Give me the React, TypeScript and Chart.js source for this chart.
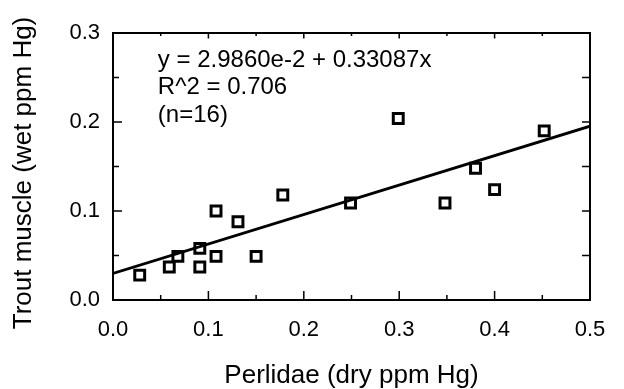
import React, { useEffect, useRef } from "react";
import { Chart, registerables } from "chart.js";

Chart.register(...registerables);

const perlidaeX = [0.028, 0.059, 0.068, 0.091, 0.091, 0.108, 0.108, 0.131, 0.150, 0.178, 0.249, 0.299, 0.348, 0.380, 0.400, 0.452];
const troutY = [0.028, 0.037, 0.049, 0.058, 0.037, 0.049, 0.100, 0.088, 0.049, 0.118, 0.109, 0.204, 0.109, 0.148, 0.124, 0.190];
const fitX = [0, 0.5];
const fitY = [0.02986, 0.19530];
const xTicks = [0, 0.1, 0.2, 0.3, 0.4, 0.5];
const yTicks = [0, 0.1, 0.2, 0.3];
const annotationLines = ["y = 2.9860e-2 + 0.33087x", "R^2 = 0.706", "(n=16)"];
const xTitle = "Perlidae (dry ppm Hg)";
const yTitle = "Trout muscle (wet ppm Hg)";

const FONT = "'Liberation Sans', Arial, Helvetica, sans-serif";

const framePlugin = {
  id: "frame",
  afterDatasetsDraw(chart: any) {
    const { ctx, chartArea: a, scales } = chart;
    const xs = scales.x;
    const ys = scales.y;
    ctx.save();
    ctx.strokeStyle = "#000";
    ctx.lineWidth = 2;
    ctx.strokeRect(a.left, a.top, a.right - a.left, a.bottom - a.top);
    ctx.lineWidth = 1.5;
    for (let i = 0; i < xTicks.length - 1; i++) {
      const major = xTicks[i];
      const minor = (xTicks[i] + xTicks[i + 1]) / 2;
      [[major, 9], [minor, 5]].forEach(([v, len]) => {
        const px = xs.getPixelForValue(v);
        ctx.beginPath();
        ctx.moveTo(px, a.bottom);
        ctx.lineTo(px, a.bottom - len);
        ctx.moveTo(px, a.top);
        ctx.lineTo(px, a.top + (len as number) * 0.6);
        ctx.stroke();
      });
    }
    for (let i = 0; i < yTicks.length - 1; i++) {
      const major = yTicks[i];
      const minor = (yTicks[i] + yTicks[i + 1]) / 2;
      [[major, 9], [minor, 6]].forEach(([v, len]) => {
        const py = ys.getPixelForValue(v);
        ctx.beginPath();
        ctx.moveTo(a.left, py);
        ctx.lineTo(a.left + len, py);
        ctx.moveTo(a.right, py);
        ctx.lineTo(a.right - 8, py);
        ctx.stroke();
      });
    }
    ctx.fillStyle = "#000";
    ctx.font = `24px ${FONT}`;
    ctx.textBaseline = "middle";
    ctx.textAlign = "left";
    const x0 = xs.getPixelForValue(0.047);
    annotationLines.forEach((t, i) => {
      ctx.fillText(t, x0, 60 + i * 27.5);
    });
    // y-axis title
    ctx.font = `26px ${FONT}`;
    ctx.textAlign = "center";
    ctx.translate(24, 173);
    ctx.rotate(-Math.PI / 2);
    ctx.fillText(yTitle, 0, 0);
    ctx.restore();
  },
};

export default function App() {
  const ref = useRef<HTMLCanvasElement>(null);
  useEffect(() => {
    document.body.style.margin = "0";
    const pts = perlidaeX.map((x, i) => ({ x, y: troutY[i] }));
    const line = fitX.map((x, i) => ({ x, y: fitY[i] }));
    const chart = new Chart(ref.current as HTMLCanvasElement, {
      type: "scatter",
      data: {
        datasets: [
          {
            type: "line",
            data: line,
            borderColor: "#000",
            borderWidth: 2.8,
            pointRadius: 0,
            fill: false,
          } as any,
          {
            data: pts,
            pointStyle: "rect",
            pointRadius: 7,
            pointBorderWidth: 3,
            pointBorderColor: "#000",
            pointBackgroundColor: "#fff",
          },
          {
            data: pts,
            pointStyle: "circle",
            pointRadius: 1.4,
            pointBorderWidth: 0,
            pointBackgroundColor: "#000",
          },
        ],
      },
      options: {
        animation: false,
        responsive: false,
        events: [],
        layout: { padding: { top: 33, right: 34, left: 0, bottom: 0 } },
        plugins: { legend: { display: false }, tooltip: { enabled: false } },
        scales: {
          x: {
            type: "linear",
            min: 0,
            max: 0.5,
            afterFit: (s: any) => { s.height = 89; },
            afterBuildTicks: (s: any) => { s.ticks = xTicks.map((v) => ({ value: v })); },
            grid: { display: false, drawTicks: false },
            border: { display: false },
            ticks: {
              padding: 17,
              color: "#000",
              font: { family: FONT, size: 22 },
              callback: (v: any) => Number(v).toFixed(1),
              maxRotation: 0,
            },
            title: {
              display: true,
              text: xTitle,
              color: "#000",
              font: { family: FONT, size: 26, lineHeight: 1 },
              padding: 0,
            },
          },
          y: {
            type: "linear",
            min: 0,
            max: 0.3,
            afterFit: (s: any) => { s.width = 113; },
            afterBuildTicks: (s: any) => { s.ticks = yTicks.map((v) => ({ value: v })); },
            grid: { display: false, drawTicks: false },
            border: { display: false },
            ticks: {
              padding: 13,
              color: "#000",
              font: { family: FONT, size: 22 },
              callback: (v: any) => Number(v).toFixed(1),
            },
            title: { display: false },
          },
        },
      },
      plugins: [framePlugin],
    } as any);
    return () => chart.destroy();
  }, []);
  return (
    <div style={{ position: "fixed", left: 0, top: 0, width: 624, height: 389, background: "#fff" }}>
      <canvas ref={ref} width={624} height={389} style={{ width: 624, height: 389 }} />
    </div>
  );
}
